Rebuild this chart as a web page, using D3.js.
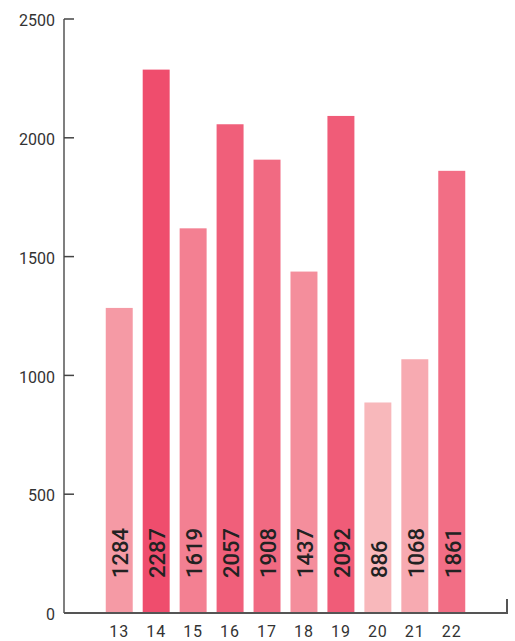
<!DOCTYPE html>
<html>
<head>
<meta charset="utf-8">
<script src="https://cdn.jsdelivr.net/npm/d3@7/dist/d3.min.js"></script>
<style>
  html, body { margin: 0; padding: 0; background: #fff; }
  svg { display: block; }
</style>
</head>
<body>
<script>
// Yearly totals by category
const categories = ["13", "14", "15", "16", "17", "18", "19", "20", "21", "22"];
const values = [1284, 2287, 1619, 2057, 1908, 1437, 2092, 886, 1068, 1861];
const yTicks = [0, 500, 1000, 1500, 2000, 2500];

const W = 515, H = 641;
const x0 = 64, x1 = 507, yBase = 613, yTop = 19;

const svg = d3.select("body").append("svg")
  .attr("width", W).attr("height", H);

const x = d3.scaleBand()
  .domain(categories)
  .range([x0, x1])
  .paddingInner(0.27)
  .paddingOuter(1.13);

const y = d3.scaleLinear()
  .domain([0, 2500])
  .range([yBase, yTop]);

const color = d3.scaleLinear()
  .domain([d3.min(values), d3.max(values)])
  .range(["#f8b8bb", "#ef4d6d"]);

const data = categories.map((c, i) => ({ c, v: values[i] }));

// bars
svg.append("g").selectAll("rect")
  .data(data)
  .join("rect")
  .attr("x", d => x(d.c))
  .attr("y", d => y(d.v))
  .attr("width", x.bandwidth())
  .attr("height", d => y(0) - y(d.v))
  .attr("fill", d => color(d.v));

// value labels, rotated inside each bar
svg.append("g").selectAll("text")
  .data(data)
  .join("text")
  .attr("transform", d => `translate(${x(d.c) + x.bandwidth() / 2 + 1},578) rotate(-90)`)
  .attr("dy", "0.36em")
  .attr("text-anchor", "start")
  .attr("font-family", "Roboto, sans-serif")
  .attr("font-weight", 500)
  .attr("font-size", 22)
  .attr("fill", "#222")
  .text(d => d.v);

// y axis: ticks point inward, labels on the left
const yAxis = svg.append("g").attr("transform", `translate(${x0},0)`);
yAxis.append("line")
  .attr("x1", 0).attr("x2", 0)
  .attr("y1", yTop).attr("y2", yBase)
  .attr("stroke", "#555").attr("stroke-width", 1.5);
const yt = yAxis.selectAll("g.tick")
  .data(yTicks)
  .join("g")
  .attr("class", "tick")
  .attr("transform", d => `translate(0,${y(d)})`);
yt.append("line")
  .attr("x1", 0).attr("x2", 10)
  .attr("stroke", "#444").attr("stroke-width", 1.5);
yt.append("text")
  .attr("x", -9)
  .attr("dy", "0.45em")
  .attr("text-anchor", "end")
  .attr("font-family", "Roboto, sans-serif")
  .attr("font-size", 16)
  .attr("fill", "#333")
  .text(d => d);

// x axis baseline with closing tick at the right end
svg.append("path")
  .attr("d", `M${x0},${yBase}H${x1}V${yBase - 14}`)
  .attr("fill", "none")
  .attr("stroke", "#555")
  .attr("stroke-width", 2);

svg.append("g").selectAll("text")
  .data(categories)
  .join("text")
  .attr("x", d => x(d) + x.bandwidth() / 2)
  .attr("y", 637)
  .attr("text-anchor", "middle")
  .attr("font-family", "Roboto, sans-serif")
  .attr("font-size", 16)
  .attr("letter-spacing", 1)
  .attr("fill", "#333")
  .text(d => d);
</script>
</body>
</html>
